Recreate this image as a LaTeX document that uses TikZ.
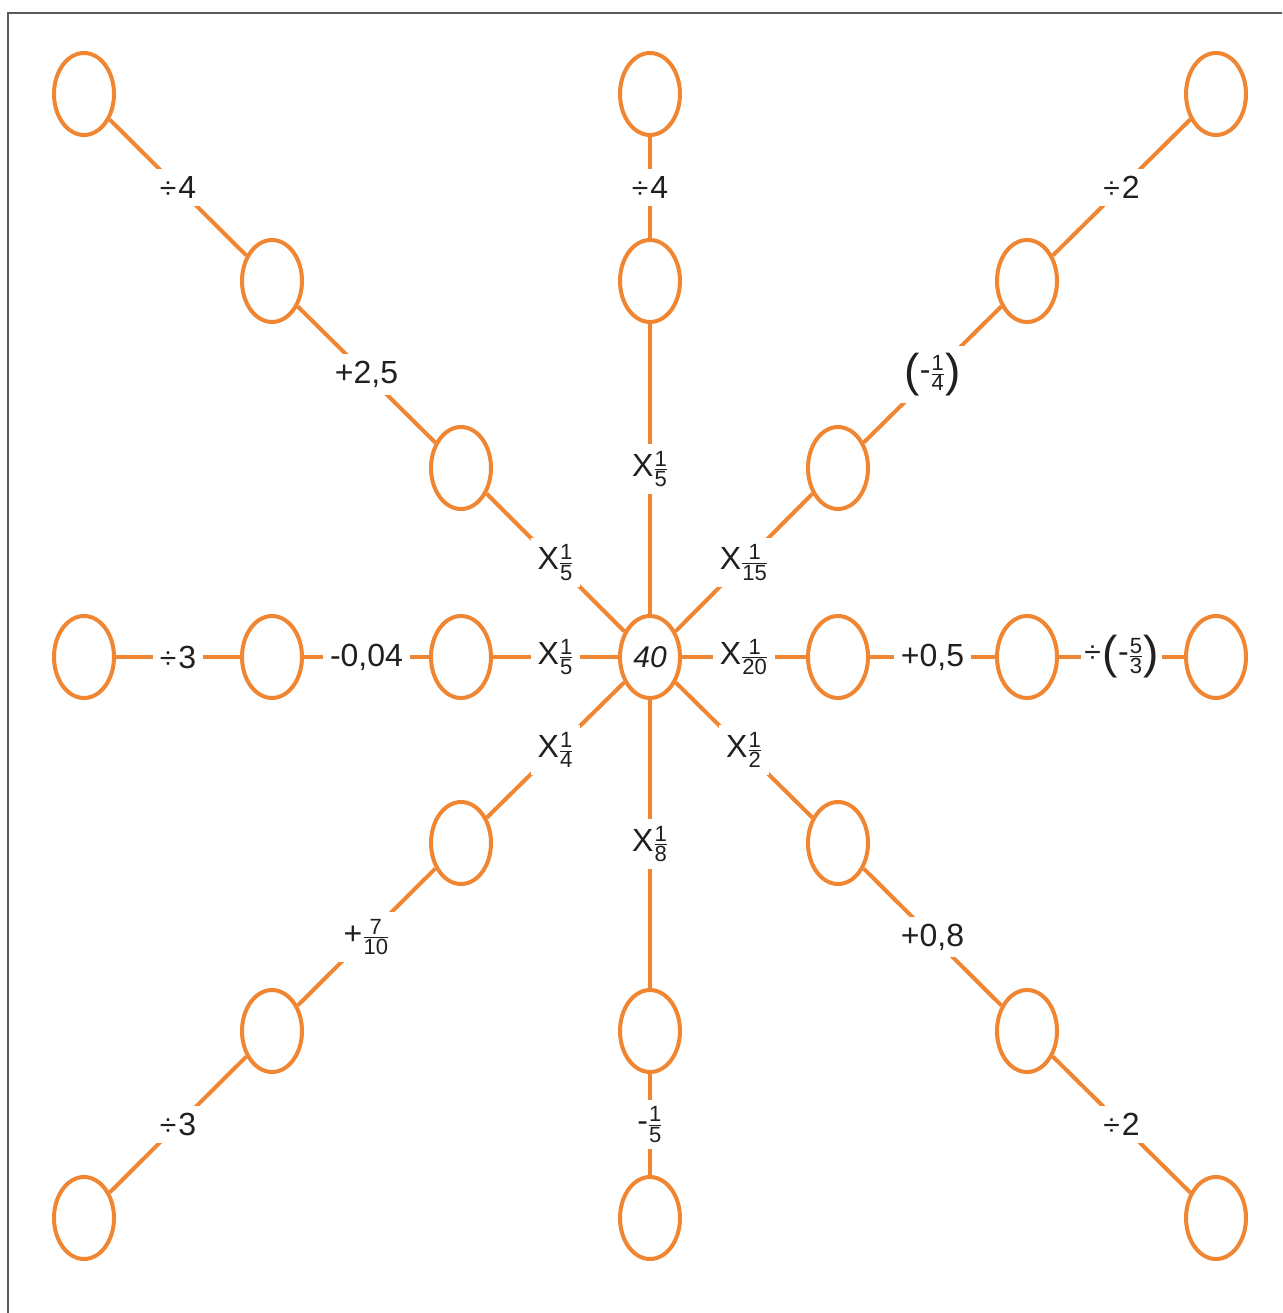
\documentclass[tikz,border=0pt]{standalone}
\usepackage{amsmath}
\usepackage{fontspec}
\setmainfont{Liberation Sans}
\usetikzlibrary{shapes.geometric}
\definecolor{orng}{RGB}{240,133,50}
\definecolor{txt}{RGB}{35,31,32}
\definecolor{frm}{RGB}{90,90,90}
\newcommand\frd[1]{\hbox{\fontsize{22}{22}\selectfont #1}}
\newcommand\fr[2]{$\frac{\frd{#1}}{\frd{#2}}$}
\newcommand\dv{{\fontsize{30}{30}\selectfont ÷}\kern2pt}
\newcommand\bigp[1]{\raisebox{-6pt}{\fontsize{46}{46}\selectfont(}#1\raisebox{-6pt}{\fontsize{46}{46}\selectfont)}}
\begin{document}
\begin{tikzpicture}[x=1pt,y=-1pt,
 oval/.style={ellipse,draw=orng,line width=4pt,fill=white,minimum width=60pt,minimum height=82pt,inner sep=0pt,text=txt,font=\fontsize{30}{32}\selectfont},
 conn/.style={draw=orng,line width=4pt},
 lbl/.style={fill=white,inner sep=7pt,text=txt,font=\fontsize{32}{34}\selectfont}]
\useasboundingbox (0,0) rectangle (1282,1313);
\draw[frm,line width=1.5pt] (8,1313) -- (8,13) -- (1282,13);
% nodes
\node[oval] (c) at (650,657) {\textit{40}};
\node[oval] (n11) at (84,94) {};
\node[oval] (n41) at (650,94) {};
\node[oval] (n71) at (1216,94) {};
\node[oval] (n22) at (272,281) {};
\node[oval] (n42) at (650,281) {};
\node[oval] (n62) at (1027,281) {};
\node[oval] (n33) at (461,468) {};
\node[oval] (n53) at (838,468) {};
\node[oval] (n14) at (84,657) {};
\node[oval] (n24) at (272,657) {};
\node[oval] (n34) at (461,657) {};
\node[oval] (n54) at (838,657) {};
\node[oval] (n64) at (1027,657) {};
\node[oval] (n74) at (1216,657) {};
\node[oval] (n35) at (461,843) {};
\node[oval] (n55) at (838,843) {};
\node[oval] (n26) at (272,1031) {};
\node[oval] (n46) at (650,1031) {};
\node[oval] (n66) at (1027,1031) {};
\node[oval] (n17) at (84,1218) {};
\node[oval] (n47) at (650,1218) {};
\node[oval] (n77) at (1216,1218) {};
% connectors
\path[conn] (c) -- node[lbl]{X\fr{1}{5}} (n33);
\path[conn] (n33) -- node[lbl]{+2,5} (n22);
\path[conn] (n22) -- node[lbl]{\dv 4} (n11);
\path[conn] (c) -- node[lbl]{X\fr{1}{5}} (n42);
\path[conn] (n42) -- node[lbl]{\dv 4} (n41);
\path[conn] (c) -- node[lbl]{X\fr{1}{15}} (n53);
\path[conn] (n53) -- node[lbl]{\bigp{-\fr{1}{4}}} (n62);
\path[conn] (n62) -- node[lbl]{\dv 2} (n71);
\path[conn] (c) -- node[lbl]{X\fr{1}{5}} (n34);
\path[conn] (n34) -- node[lbl]{-0,04} (n24);
\path[conn] (n24) -- node[lbl]{\dv 3} (n14);
\path[conn] (c) -- node[lbl]{X\fr{1}{20}} (n54);
\path[conn] (n54) -- node[lbl]{+0,5} (n64);
\path[conn] (n64) -- node[lbl,inner xsep=3pt]{\dv\bigp{-\fr{5}{3}}} (n74);
\path[conn] (c) -- node[lbl]{X\fr{1}{4}} (n35);
\path[conn] (n35) -- node[lbl]{+\fr{7}{10}} (n26);
\path[conn] (n26) -- node[lbl]{\dv 3} (n17);
\path[conn] (c) -- node[lbl]{X\fr{1}{8}} (n46);
\path[conn] (n46) -- node[lbl]{-\fr{1}{5}} (n47);
\path[conn] (c) -- node[lbl]{X\fr{1}{2}} (n55);
\path[conn] (n55) -- node[lbl]{+0,8} (n66);
\path[conn] (n66) -- node[lbl]{\dv 2} (n77);
\end{tikzpicture}
\end{document}
